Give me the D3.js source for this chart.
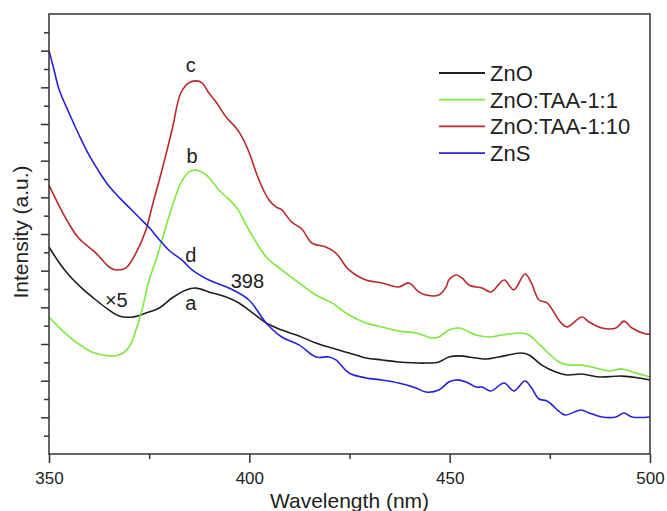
<!DOCTYPE html>
<html>
<head>
<meta charset="utf-8">
<script src="https://cdn.jsdelivr.net/npm/d3@7"></script>
<style>
  body { margin: 0; background: #fff; }
  svg { display: block; font-family: "Liberation Sans", Arial, sans-serif; }
  .frame { fill: none; stroke: #333; stroke-width: 1.5; }
  .curve { fill: none; stroke-width: 1.6; stroke-linejoin: round; }
</style>
</head>
<body>
<svg id="chart" width="667" height="511"></svg>
<script>
// series data (wavelength in nm, intensity in a.u.)
var znoWl = [350, 352.5, 355, 358.2, 361.7, 365, 367.5, 370.7, 374.2, 377.5, 380.7, 384.2, 386.7, 389.9, 394.2, 397.4, 399.9, 404.2, 408.1, 412.4, 416.6, 420.6, 424.9, 429.1, 433.1, 437.3, 444.1, 447.3, 449.8, 452.3, 456.6, 459.1, 462.3, 467.8, 469.8, 473, 476.5, 479.3, 483, 487.3, 493, 497.2, 500];
var znoI  = [11.29, 10.45, 9.75, 9.05, 8.40, 7.85, 7.53, 7.47, 7.69, 7.96, 8.51, 8.95, 9.05, 8.84, 8.56, 8.24, 7.85, 7.15, 6.76, 6.44, 6.05, 5.78, 5.51, 5.24, 5.13, 5.02, 4.96, 5.02, 5.29, 5.35, 5.24, 5.18, 5.29, 5.51, 5.40, 4.85, 4.47, 4.31, 4.36, 4.20, 4.25, 4.15, 4.04];

var taa1Wl = [350, 353.2, 356.7, 360.7, 365, 367.5, 370, 371.7, 373.2, 375, 376.7, 378.2, 380.7, 382.9, 384.9, 386.7, 389.2, 392.4, 396.7, 399.9, 404.2, 408.1, 412.4, 416.6, 420.6, 424.9, 429.1, 433.1, 437.3, 441.6, 445.6, 447.3, 449.8, 452.3, 456.6, 459.8, 463.1, 467.8, 469.8, 473, 477.3, 479.8, 483, 486.5, 489.8, 493, 496.5, 500];
var taa1I  = [7.47, 6.76, 6.11, 5.56, 5.35, 5.40, 5.84, 6.76, 7.85, 9.49, 10.58, 11.67, 13.47, 14.78, 15.38, 15.49, 15.22, 14.40, 13.47, 12.22, 10.75, 10.04, 9.33, 8.67, 8.24, 7.58, 7.15, 6.93, 6.71, 6.60, 6.33, 6.38, 6.76, 6.87, 6.49, 6.38, 6.49, 6.60, 6.49, 5.84, 5.02, 4.85, 4.85, 4.69, 4.53, 4.64, 4.42, 4.20];

var taa10Wl = [350, 352.5, 355, 357.5, 361.7, 365, 366.7, 369.2, 371.7, 374.2, 375.7, 378.2, 380.7, 382.9, 384.9, 386.7, 388.2, 389.9, 391.7, 394.2, 396.7, 398.2, 399.9, 402.4, 404.9, 406.7, 408.1, 410.6, 413.1, 415.6, 419.1, 421.6, 424.9, 429.1, 433.1, 437.3, 439.8, 442.3, 444.1, 447.3, 449.1, 449.8, 451.6, 453.1, 454.8, 458.1, 460.3, 463.6, 466, 468.8, 470.3, 472.3, 474.3, 477.8, 479.3, 483, 484.8, 488, 491.5, 493.5, 495.5, 499, 500];
var taa10I  = [14.67, 13.55, 12.55, 11.75, 10.96, 10.20, 10.04, 10.15, 10.96, 12.22, 13.47, 15.49, 17.67, 19.69, 20.24, 20.35, 20.24, 19.69, 19.20, 18.38, 17.78, 17.29, 16.47, 14.95, 13.85, 13.47, 13.31, 12.65, 12.27, 11.51, 11.29, 10.96, 10.04, 9.49, 9.33, 9.11, 9.33, 8.84, 8.67, 8.67, 9.11, 9.49, 9.76, 9.60, 9.22, 9.05, 8.84, 9.49, 8.95, 9.82, 9.38, 8.40, 8.24, 7.15, 6.93, 7.47, 7.20, 6.87, 6.87, 7.25, 6.87, 6.55, 6.55];

var znsWl = [350, 351.2, 352.5, 355, 357.5, 360, 362.5, 365, 367.5, 370, 372.5, 375, 377.5, 380, 383.2, 385.7, 389.9, 394.9, 399.9, 404.2, 408.1, 412.4, 416.6, 419.9, 421.6, 424.9, 429.1, 433.1, 437.3, 441.6, 444.1, 447.3, 449.8, 451.6, 454.1, 456.6, 458.1, 460.3, 463.6, 466, 468.8, 470.3, 472.3, 474.3, 477.8, 479, 482.8, 484.8, 488, 491.5, 493.5, 495.5, 500];
var znsI  = [22.0, 21.0, 19.9, 18.6, 17.4, 16.3, 15.4, 14.6, 14.0, 13.45, 12.9, 12.35, 11.7, 11.1, 10.58, 10.04, 9.49, 9.05, 8.40, 7.15, 6.38, 5.95, 5.29, 5.29, 5.13, 4.42, 4.15, 4.04, 3.87, 3.60, 3.38, 3.49, 3.93, 4.04, 3.93, 3.65, 3.65, 3.44, 3.87, 3.44, 3.98, 3.65, 3.00, 2.89, 2.24, 2.13, 2.40, 2.24, 2.02, 2.02, 2.24, 2.02, 2.02];

var seriesNames = ["ZnO", "ZnO:TAA-1:1", "ZnO:TAA-1:10", "ZnS"];
var seriesColors = ["#1e1e1e", "#7ee83c", "#b8282c", "#2323d8"];
var xTicks = [350, 400, 450, 500];
var xMinorTicks = [375, 425, 475];

// curve letters and notes
var notes = [
  {text: "c", x: 385.4, y: 20.84},
  {text: "b", x: 385.7, y: 15.87},
  {text: "d", x: 385.4, y: 10.47},
  {text: "a", x: 385.4, y: 7.85},
  {text: "\u00d75", x: 366.8, y: 8.02},
  {text: "398", x: 399.5, y: 9.05}
];

var svg = d3.select("#chart"),
    width = +svg.attr("width"),
    height = +svg.attr("height");
var margin = {top: 14, right: 17, bottom: 57, left: 49};

var x = d3.scaleLinear().domain([350, 500]).range([margin.left, width - margin.right]);
var y = d3.scaleLinear().domain([0, 24]).range([height - margin.bottom, margin.top]);

var series = [
  {wl: znoWl, val: znoI},
  {wl: taa1Wl, val: taa1I},
  {wl: taa10Wl, val: taa10I},
  {wl: znsWl, val: znsI}
];

var line = d3.line()
  .x(function(d) { return x(d[0]); })
  .y(function(d) { return y(d[1]); })
  .curve(d3.curveCatmullRom.alpha(0.5));

svg.append("g").selectAll("path")
  .data(series)
  .enter().append("path")
  .attr("class", "curve")
  .attr("stroke", function(d, i) { return seriesColors[i]; })
  .attr("d", function(d) { return line(d3.zip(d.wl, d.val)); });

// frame
svg.append("rect").attr("class", "frame")
  .attr("x", x(350)).attr("y", y(24))
  .attr("width", x(500) - x(350)).attr("height", y(0) - y(24));

// x axis
var xAxis = svg.append("g").attr("transform", "translate(0," + y(0) + ")");
xAxis.call(d3.axisBottom(x).tickValues(xTicks).tickSize(9).tickPadding(9).tickFormat(d3.format("d")));
xAxis.append("g").call(d3.axisBottom(x).tickValues(xMinorTicks).tickSize(5).tickFormat(""));
xAxis.attr("font-size", 17).attr("font-family", "Liberation Sans, Arial, sans-serif");
xAxis.selectAll(".domain").remove();
xAxis.selectAll("line").attr("stroke", "#333").attr("stroke-width", 1.5);
xAxis.selectAll("text").attr("fill", "#222");

// y axis, no labels
var yAxis = svg.append("g").attr("transform", "translate(" + x(350) + ",0)");
yAxis.call(d3.axisLeft(y).tickValues(d3.range(2, 24, 2)).tickSize(8).tickFormat(""));
yAxis.append("g").call(d3.axisLeft(y).tickValues(d3.range(1, 24, 2)).tickSize(5).tickFormat(""));
yAxis.selectAll(".domain").remove();
yAxis.selectAll("line").attr("stroke", "#333").attr("stroke-width", 1.5);

// axis titles
svg.append("text")
  .attr("x", (x(350) + x(500)) / 2).attr("y", 508)
  .attr("text-anchor", "middle").attr("font-size", 21).attr("fill", "#222")
  .text("Wavelength (nm)");
svg.append("text")
  .attr("transform", "translate(28,232) rotate(-90)")
  .attr("text-anchor", "middle").attr("font-size", 21).attr("fill", "#222")
  .text("Intensity (a.u.)");

// legend
var legend = svg.append("g").selectAll("g")
  .data(seriesNames)
  .enter().append("g")
  .attr("transform", function(d, i) { return "translate(439," + (73 + i * 26.7) + ")"; });
legend.append("line")
  .attr("x1", 0).attr("x2", 46)
  .attr("stroke", function(d, i) { return seriesColors[i]; })
  .attr("stroke-width", 1.8);
legend.append("text")
  .attr("x", 51).attr("y", 8)
  .attr("font-size", 22).attr("fill", "#222")
  .text(function(d) { return d; });

// curve notes
svg.append("g").selectAll("text")
  .data(notes)
  .enter().append("text")
  .attr("x", function(d) { return x(d.x); })
  .attr("y", function(d) { return y(d.y); })
  .attr("text-anchor", "middle")
  .attr("font-size", 20).attr("fill", "#222")
  .text(function(d) { return d.text; });
</script>
</body>
</html>
